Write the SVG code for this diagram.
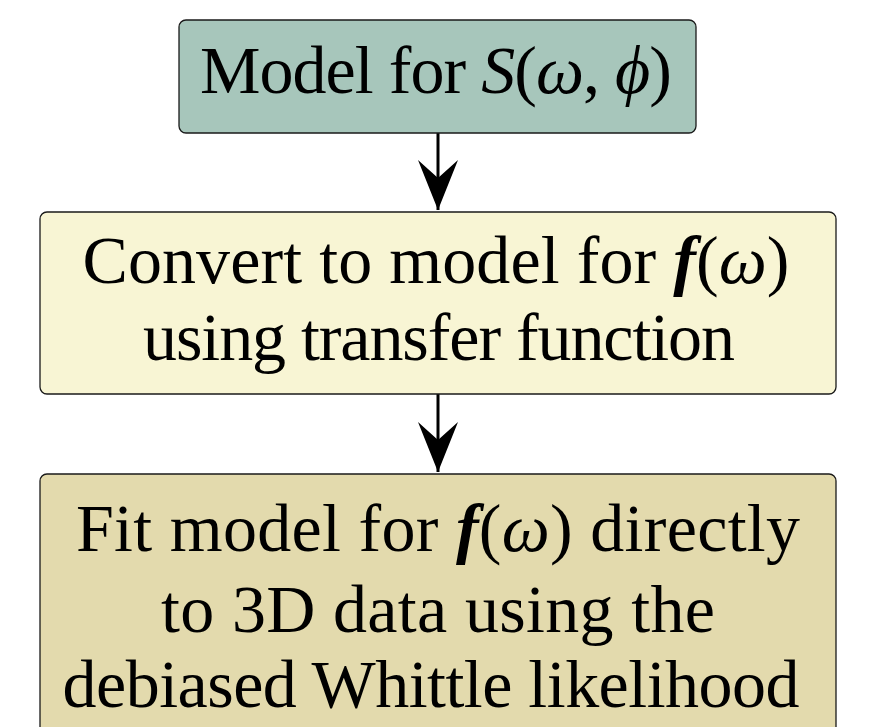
<svg xmlns="http://www.w3.org/2000/svg" width="872" height="727" viewBox="0 0 872 727">
  <defs>
    <!-- arrowhead drawn along +x, tip at the reference point -->
    <marker id="head" markerWidth="52" markerHeight="42" refX="50" refY="20" orient="auto" markerUnits="userSpaceOnUse" viewBox="0 0 52 42">
      <path d="M0,0 L50,20 L0,40 L18,20 Z" fill="#000"/>
    </marker>
    <style>
      .box { stroke: #1a1a1a; stroke-width: 1.3; }
      .t { font-family: "Liberation Serif", "DejaVu Serif", serif; font-size: 68px; fill: #000; text-anchor: middle; }
      .m { font-style: italic; }
      .b { font-style: italic; font-weight: bold; }
      .edge { stroke: #000; stroke-width: 3; fill: none; }
    </style>
  </defs>
  <rect width="872" height="727" fill="#fff"/>

  <g id="connectors">
    <line class="edge" x1="438" y1="133" x2="438" y2="210" marker-end="url(#head)"/>
    <line class="edge" x1="438" y1="394" x2="438" y2="472" marker-end="url(#head)"/>
  </g>

  <g id="node-model">
    <rect class="box" x="179" y="20" width="517" height="113" rx="7" fill="#a7c6bb"/>
    <text class="t" x="436" y="93" textLength="472">Model for <tspan class="m">S</tspan>(<tspan class="m">ω</tspan>, <tspan class="m">ϕ</tspan>)</text>
  </g>

  <g id="node-convert">
    <rect class="box" x="40" y="212" width="796" height="182" rx="7" fill="#f8f5d4"/>
    <text class="t" x="436" y="283" textLength="707">Convert to model for <tspan class="b">f</tspan>(<tspan class="m">ω</tspan>)</text>
    <text class="t" x="439" y="360" textLength="592">using transfer function</text>
  </g>

  <g id="node-fit">
    <rect class="box" x="40" y="474" width="796" height="280" rx="7" fill="#e3daad"/>
    <text class="t" x="438" y="551" textLength="724">Fit model for <tspan class="b">f</tspan>(<tspan class="m">ω</tspan>) directly</text>
    <text class="t" x="438" y="632" textLength="554">to 3D data using the</text>
    <text class="t" x="431" y="707" textLength="737">debiased Whittle likelihood</text>
  </g>
</svg>
